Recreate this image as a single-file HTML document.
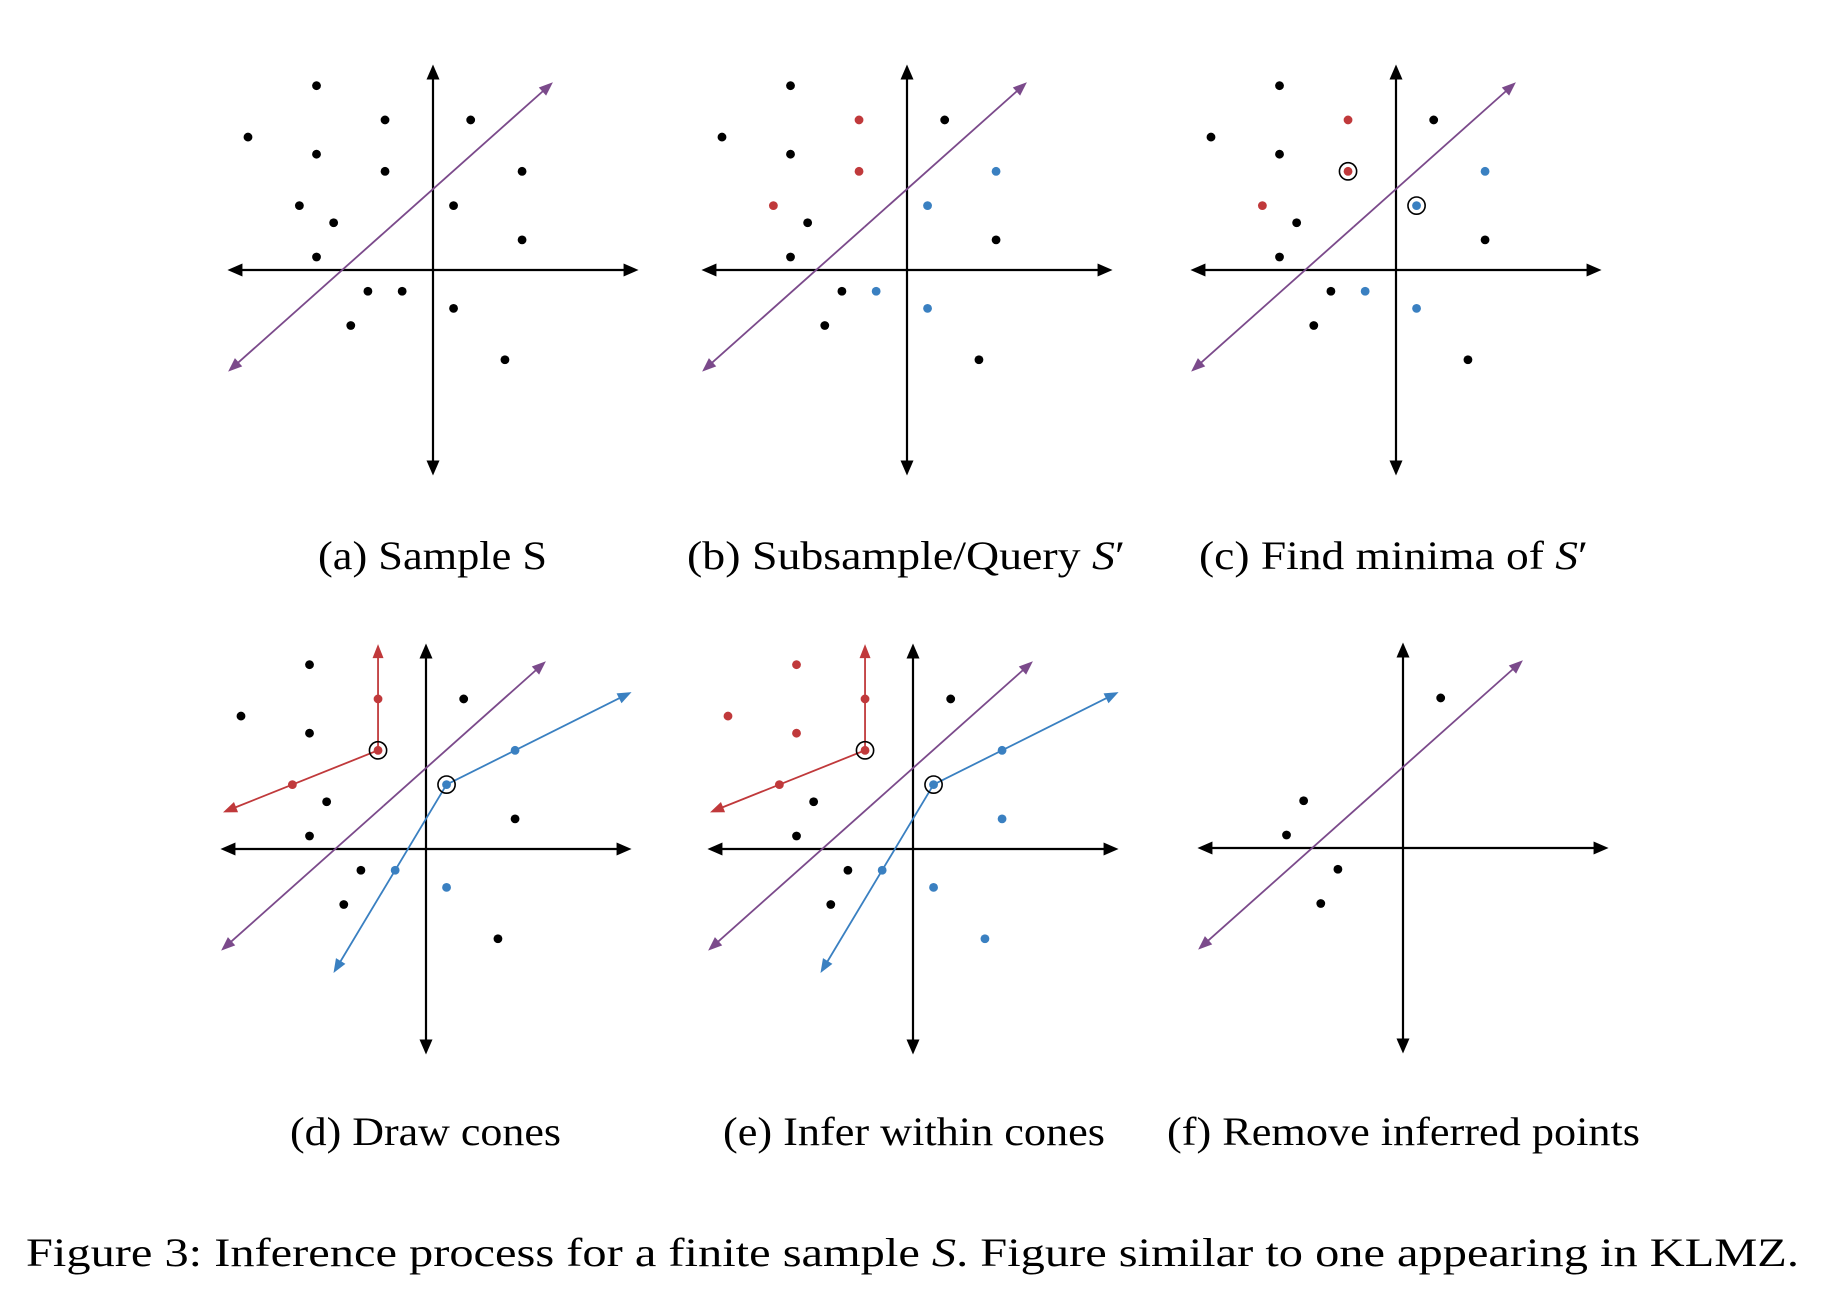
<!DOCTYPE html>
<html><head><meta charset="utf-8"><style>
html,body{margin:0;padding:0;background:#fff;}
svg{display:block;}
text{font-family:"Liberation Serif","DejaVu Serif",serif;fill:#000;}
</style></head><body>
<svg id="fig" width="1822" height="1290" viewBox="0 0 1822 1290" xmlns="http://www.w3.org/2000/svg">
<g id="panels"></g>
<text x="318" y="569" font-size="40" textLength="229" lengthAdjust="spacingAndGlyphs">(a) Sample S</text>
<text x="687" y="569" font-size="40" textLength="438" lengthAdjust="spacingAndGlyphs">(b) Subsample/Query <tspan font-style="italic">S</tspan>′</text>
<text x="1199" y="569" font-size="40" textLength="389" lengthAdjust="spacingAndGlyphs">(c) Find minima of <tspan font-style="italic">S</tspan>′</text>
<text x="290" y="1145" font-size="40" textLength="271" lengthAdjust="spacingAndGlyphs">(d) Draw cones</text>
<text x="723" y="1145" font-size="40" textLength="382" lengthAdjust="spacingAndGlyphs">(e) Infer within cones</text>
<text x="1167" y="1145" font-size="40" textLength="473" lengthAdjust="spacingAndGlyphs">(f) Remove inferred points</text>
<text x="26" y="1266" font-size="40" textLength="1773" lengthAdjust="spacingAndGlyphs">Figure 3: Inference process for a finite sample <tspan font-style="italic">S</tspan>. Figure similar to one appearing in KLMZ.</text>
</svg>
<script>
// grid-unit data
const pointsX = [-7,-11,-3,2,-7,-3,5,-8,1,-6,5,-7,-4,-2,1,-5,4];
const pointsY = [11,8,9,9,7,6,6,4,4,3,2,1,-1,-1,-2,-3,-5];
// colour class per panel: k=black, r=red, b=blue, n=none
const colorsA = ['k','k','k','k','k','k','k','k','k','k','k','k','k','k','k','k','k'];
const colorsB = ['k','k','r','k','k','r','b','r','b','k','k','k','k','b','b','k','k'];
const colorsC = colorsB;
const colorsD = colorsB;
const colorsE = ['r','r','r','k','r','r','b','r','b','k','b','k','k','b','b','k','b'];
const colorsF = ['n','n','n','k','n','n','n','n','n','k','n','k','k','n','n','k','n'];
const circledIdx = [5,8];
const purpleLine = [[-12.16,-5.69],[6.8,11.2]];
const redConeUp = [[-3,6],[-3,12.2]];
const redConeLeft = [[-3,6],[-12.05,2.38]];
const blueConeRight = [[1,4],[11.8,9.4]];
const blueConeDown = [[1,4],[-5.6,-7]];
const panelCenters = [[433,270],[907,270],[1396,270],[426,849],[913,849],[1403,848]];
const panelColors = [colorsA,colorsB,colorsC,colorsD,colorsE,colorsF];
const panelCircles = [false,false,true,true,true,false];
const panelCones = [false,false,false,true,true,false];
const panelNames = ['a','b','c','d','e','f'];

const U = 17.13, NS = 'http://www.w3.org/2000/svg';
const COL = {k:'#000', r:'#c0393b', b:'#3a80c1', p:'#7b4a8b'};
const root = document.getElementById('panels');
function mk(tag, attrs, parent){
  const e = document.createElementNS(NS, tag);
  for (const k in attrs) e.setAttribute(k, attrs[k]);
  parent.appendChild(e); return e;
}
function arrow(g, x1,y1,x2,y2,color,w,len,hw,name){
  const a = Math.atan2(y2-y1,x2-x1);
  const bx = x2-len*Math.cos(a), by = y2-len*Math.sin(a);
  const l = mk('line',{x1:x1,y1:y1,x2:bx+Math.cos(a)*2,y2:by+Math.sin(a)*2,stroke:color,'stroke-width':w},g);
  
  
  const px = -Math.sin(a)*hw, py = Math.cos(a)*hw;
  const h = mk('polygon',{points:`${x2},${y2} ${bx+px},${by+py} ${bx-px},${by-py}`,fill:color},g);
  
  
}
panelCenters.forEach((c,pi)=>{
  const [cx,cy] = c;
  const sx = gx => cx + (gx+0.2)*U;
  const sy = gy => cy - (gy-0.24)*U;
  const g = mk('g',{},root);
  
  
  const R = 12*U;
  arrow(g, cx, cy, cx+R, cy, '#000', 2.2, 15, 6.5, 'x-axis-right');
  arrow(g, cx, cy, cx-R, cy, '#000', 2.2, 15, 6.5, 'x-axis-left');
  arrow(g, cx, cy, cx, cy-R, '#000', 2.2, 15, 6.5, 'y-axis-up');
  arrow(g, cx, cy, cx, cy+R, '#000', 2.2, 15, 6.5, 'y-axis-down');
  const mx = (sx(purpleLine[0][0])+sx(purpleLine[1][0]))/2, my=(sy(purpleLine[0][1])+sy(purpleLine[1][1]))/2;
  arrow(g, mx,my, sx(purpleLine[1][0]), sy(purpleLine[1][1]), COL.p, 1.8, 14, 5.5, 'separator-upper');
  arrow(g, mx,my, sx(purpleLine[0][0]), sy(purpleLine[0][1]), COL.p, 1.8, 14, 5.5, 'separator-lower');
  if (panelCones[pi]){
    [[redConeUp,COL.r,'red-cone-up'],[redConeLeft,COL.r,'red-cone-left'],[blueConeRight,COL.b,'blue-cone-right'],[blueConeDown,COL.b,'blue-cone-down']].forEach(([seg,col,nm])=>{
      arrow(g, sx(seg[0][0]), sy(seg[0][1]), sx(seg[1][0]), sy(seg[1][1]), col, 1.8, 14, 5.5, nm);
    });
  }
  const cols = panelColors[pi];
  pointsX.forEach((px,i)=>{
    if (cols[i]==='n') return;
    const d = mk('circle',{cx:sx(px),cy:sy(pointsY[i]),r:4.4,fill:COL[cols[i]]},g);
    
    
  });
  if (panelCircles[pi]){
    circledIdx.forEach(i=>{
      const r = mk('circle',{cx:sx(pointsX[i]),cy:sy(pointsY[i]),r:8.6,fill:'none',stroke:'#000','stroke-width':1.6},g);
      
      
    });
  }
});
</script>
</body></html>
